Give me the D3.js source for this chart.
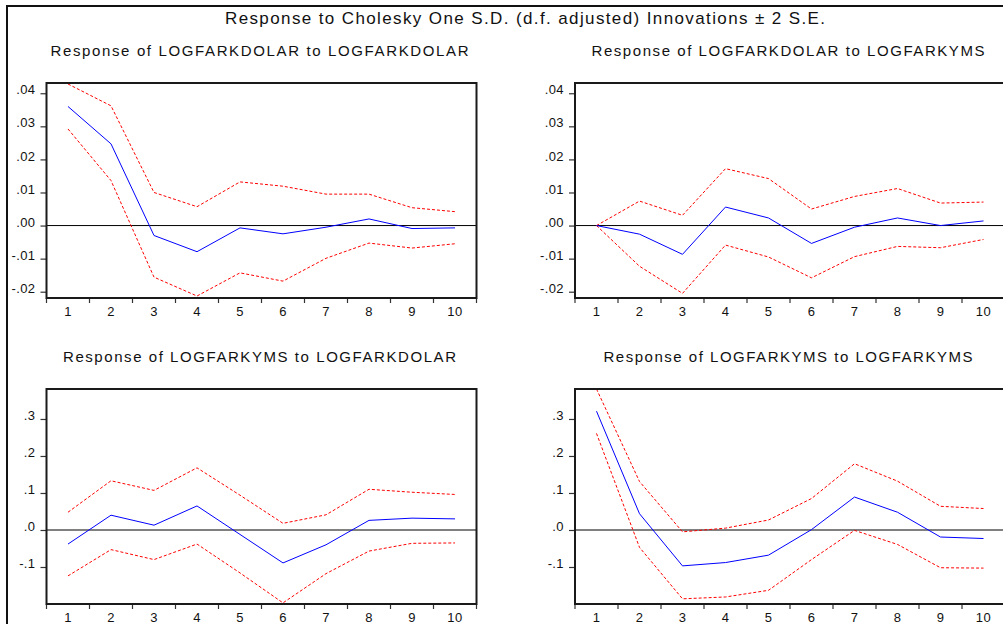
<!DOCTYPE html>
<html>
<head>
<meta charset="utf-8">
<script src="https://cdn.jsdelivr.net/npm/d3@7"></script>
<style>
  body { margin: 0; background: #fff; }
  text { font-family: "Liberation Sans", Arial, sans-serif; fill: #111; }
</style>
</head>
<body>
<div class="container"></div>
<script>
// ---------- DATA ----------
var steps = [1, 2, 3, 4, 5, 6, 7, 8, 9, 10]

// Response of LOGFARKDOLAR to LOGFARKDOLAR
var dolDolResp  = [0.0360, 0.0247, -0.0030, -0.0079, -0.0007, -0.0025, -0.0005, 0.0020, -0.0009, -0.0007]
var dolDolUpper = [0.0428, 0.0362, 0.0100, 0.0057, 0.0132, 0.0119, 0.0095, 0.0095, 0.0054, 0.0042]
var dolDolLower = [0.0292, 0.0136, -0.0156, -0.0213, -0.0143, -0.0168, -0.0099, -0.0053, -0.0068, -0.0055]

// Response of LOGFARKDOLAR to LOGFARKYMS
var dolYmsResp  = [0.0000, -0.0026, -0.0087, 0.0056, 0.0023, -0.0054, -0.0005, 0.0023, 0.0000, 0.0014]
var dolYmsUpper = [0.0000, 0.0074, 0.0031, 0.0172, 0.0142, 0.0050, 0.0088, 0.0112, 0.0068, 0.0071]
var dolYmsLower = [0.0000, -0.0123, -0.0205, -0.0059, -0.0095, -0.0158, -0.0094, -0.0063, -0.0067, -0.0042]

// Response of LOGFARKYMS to LOGFARKDOLAR
var ymsDolResp  = [-0.038, 0.040, 0.013, 0.065, -0.012, -0.089, -0.040, 0.026, 0.032, 0.030]
var ymsDolUpper = [0.048, 0.133, 0.107, 0.168, 0.094, 0.018, 0.041, 0.110, 0.102, 0.096]
var ymsDolLower = [-0.124, -0.053, -0.080, -0.038, -0.116, -0.197, -0.118, -0.057, -0.036, -0.035]

// Response of LOGFARKYMS to LOGFARKYMS
var ymsYmsResp  = [0.321, 0.044, -0.097, -0.088, -0.068, 0.001, 0.089, 0.048, -0.019, -0.023]
var ymsYmsUpper = [0.381, 0.131, -0.005, 0.005, 0.027, 0.085, 0.179, 0.132, 0.064, 0.058]
var ymsYmsLower = [0.261, -0.047, -0.186, -0.181, -0.163, -0.080, -0.001, -0.039, -0.102, -0.103]

var topTicks = [-0.02, -0.01, 0, 0.01, 0.02, 0.03, 0.04]
var topTickLabels = ["-.02", "-.01", ".00", ".01", ".02", ".03", ".04"]
var bottomTicks = [-0.1, 0, 0.1, 0.2, 0.3]
var bottomTickLabels = ["-.1", ".0", ".1", ".2", ".3"]

var mainTitle = "Response to Cholesky One S.D. (d.f. adjusted) Innovations \u00B1 2 S.E."

var width = 1003,
    height = 624;

var svg = d3.select(".container").append("svg")
    .attr("width", width)
    .attr("height", height)

// outer frame (runs off the right and bottom of the picture)
svg.append("rect")
  .attr("x", 7).attr("y", 6)
  .attr("width", 1100).attr("height", 700)
  .attr("fill", "none")
  .attr("stroke", "#111")
  .attr("stroke-width", 2)

svg.append("text")
  .attr("x", 525).attr("y", 24)
  .attr("text-anchor", "middle")
  .attr("font-size", 17)
  .attr("textLength", 600)
  .attr("lengthAdjust", "spacing")
  .text(mainTitle)

var panels = [
  { title: "Response of LOGFARKDOLAR to LOGFARKDOLAR", left: 46.5, top: 83, titleW: 418, resp: dolDolResp, upper: dolDolUpper, lower: dolDolLower, domain: [-0.0219, 0.0431], ticks: topTicks, labels: topTickLabels, zero: "#000", zeroW: 1 },
  { title: "Response of LOGFARKDOLAR to LOGFARKYMS", left: 575, top: 83, titleW: 393, resp: dolYmsResp, upper: dolYmsUpper, lower: dolYmsLower, domain: [-0.0219, 0.0431], ticks: topTicks, labels: topTickLabels, zero: "#000", zeroW: 1 },
  { title: "Response of LOGFARKYMS to LOGFARKDOLAR", left: 46.5, top: 389, titleW: 393, resp: ymsDolResp, upper: ymsDolUpper, lower: ymsDolLower, domain: [-0.2, 0.381], ticks: bottomTicks, labels: bottomTickLabels, zero: "#808080", zeroW: 2 },
  { title: "Response of LOGFARKYMS to LOGFARKYMS", left: 575, top: 389, titleW: 369, resp: ymsYmsResp, upper: ymsYmsUpper, lower: ymsYmsLower, domain: [-0.2, 0.381], ticks: bottomTicks, labels: bottomTickLabels, zero: "#808080", zeroW: 2 }
]

var boxW = 430,
    boxH = 215;

panels.forEach(function(p, i) {
  var g = svg.append("g").attr("transform", "translate(" + p.left + "," + p.top + ")")

  var x = d3.scaleBand().domain(steps).range([0, boxW])
  var y = d3.scaleLinear().domain(p.domain).range([boxH, 0])

  g.append("text")
    .attr("x", boxW / 2 - 2)
    .attr("y", -27)
    .attr("text-anchor", "middle")
    .attr("font-size", 15)
    .attr("textLength", p.titleW)
    .attr("lengthAdjust", "spacing")
    .text(p.title)

  g.append("clipPath").attr("id", "clip" + i)
    .append("rect").attr("width", boxW).attr("height", boxH)

  // y axis
  var yAxis = d3.axisLeft(y)
    .tickValues(p.ticks)
    .tickFormat(function(d, j) { return p.labels[j] })
    .tickSize(6)
    .tickPadding(5)
  var ya = g.append("g").call(yAxis)
  ya.select(".domain").remove()
  ya.selectAll("line").attr("stroke", "#333").attr("stroke-width", 1.2)
  ya.selectAll("text")
    .attr("font-size", 13)
    .attr("letter-spacing", 0.4)
    .attr("font-family", "Liberation Sans, Arial, sans-serif")
    .attr("fill", "#111")
    .attr("dy", "0.05em")

  // x ticks at band edges
  var edges = steps.map(function(d) { return x(d) }).concat([boxW])
  g.selectAll(".xtick").data(edges).enter().append("line")
    .attr("x1", function(d) { return d }).attr("x2", function(d) { return d })
    .attr("y1", boxH).attr("y2", boxH + 5)
    .attr("stroke", "#333").attr("stroke-width", 1.2)

  g.selectAll(".xlab").data(steps).enter().append("text")
    .attr("x", function(d) { return x(d) + x.bandwidth() / 2 })
    .attr("y", boxH + 18)
    .attr("text-anchor", "middle")
    .attr("font-size", 13)
    .attr("letter-spacing", 0.4)
    .text(function(d) { return d })

  var plot = g.append("g").attr("clip-path", "url(#clip" + i + ")")

  plot.append("line")
    .attr("x1", 0).attr("x2", boxW)
    .attr("y1", y(0)).attr("y2", y(0))
    .attr("stroke", p.zero).attr("stroke-width", p.zeroW)

  var line = d3.line()
    .x(function(d, j) { return x(steps[j]) + x.bandwidth() / 2 })
    .y(function(d) { return y(d) })

  plot.append("path").datum(p.upper)
    .attr("d", line).attr("fill", "none")
    .attr("stroke", "#ff0000").attr("stroke-width", 1)
    .attr("stroke-dasharray", "3,2")
  plot.append("path").datum(p.lower)
    .attr("d", line).attr("fill", "none")
    .attr("stroke", "#ff0000").attr("stroke-width", 1)
    .attr("stroke-dasharray", "3,2")
  plot.append("path").datum(p.resp)
    .attr("d", line).attr("fill", "none")
    .attr("stroke", "#0000ff").attr("stroke-width", 1)

  g.append("rect")
    .attr("width", boxW).attr("height", boxH)
    .attr("fill", "none")
    .attr("stroke", "#1a1a1a")
    .attr("stroke-width", 2)
})
</script>
</body>
</html>
